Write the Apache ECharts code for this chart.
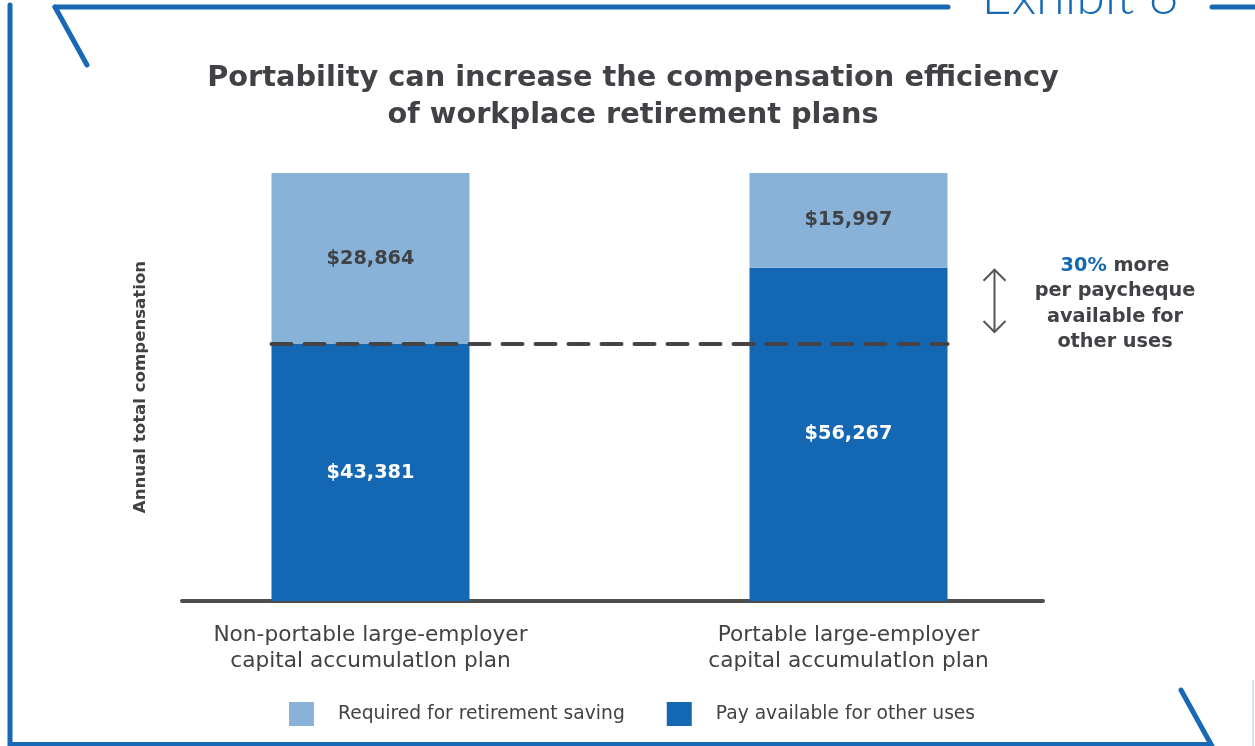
<!DOCTYPE html>
<html>
<head>
<meta charset="utf-8">
<script src="https://cdn.jsdelivr.net/npm/echarts@6/dist/echarts.min.js"></script>
<style>html,body{margin:0;padding:0;background:#fff;}#c{width:1255px;height:746px;}</style>
</head>
<body>
<div id="c"></div>
<script>
const categories = ['Non-portable large-employer\ncapital accumulatIon plan', 'Portable large-employer\ncapital accumulatIon plan'];
const payAvailable = [43381, 56267];
const requiredSaving = [28864, 15997];
const seriesNames = ['Required for retirement saving', 'Pay available for other uses'];
const titleText = 'Portability can increase the compensation efficiency\nof workplace retirement plans';
const yAxisName = 'Annual total compensation';
const exhibitText = 'Exhibit 6';
const annotationText = '{b|30%} more\nper paycheque\navailable for\nother uses';

const FONT = "'DejaVu Sans', 'Open Sans', sans-serif";
const DARK = '#1467b3';
const LIGHT = '#88b2d8';
const TEXT = '#414246';
const FRAME = '#1769b5';
const totals = payAvailable.map((v, i) => v + requiredSaving[i]);
const yMax = Math.max(...totals);
const fmt = v => '$' + v.toLocaleString('en-US');

const chart = echarts.init(document.getElementById('c'), null, {renderer: 'canvas'});
const option = {
  backgroundColor: '#fff',
  animation: false,
  title: {
    text: titleText, left: 633, top: 60, textAlign: 'center', padding: 0,
    textStyle: {fontFamily: FONT, fontWeight: 'bold', fontSize: 28.8, lineHeight: 37, color: TEXT}
  },
  legend: {
    data: [seriesNames[0], seriesNames[1]], left: 289, top: 702, itemWidth: 25, itemHeight: 24, itemGap: 42,
    icon: 'rect', selectedMode: false, padding: 0,
    textStyle: {fontFamily: FONT, fontSize: 18.7, color: TEXT, padding: [0, 0, 0, 19]}
  },
  grid: [
    {left: 131.5, right: 167.5, top: 173, bottom: 145},
    {left: 182, right: 212, top: 173, bottom: 145}
  ],
  xAxis: [
    {type: 'category', gridIndex: 0, data: categories, axisLine: {show: false}, axisTick: {show: false},
     axisLabel: {fontFamily: FONT, fontSize: 21.7, lineHeight: 26, color: TEXT, margin: 21, interval: 0}},
    {type: 'category', gridIndex: 1, data: [''], axisLine: {show: true, lineStyle: {color: '#4d4d4d', width: 4}},
     axisTick: {show: false}, axisLabel: {show: false}}
  ],
  yAxis: [
    {type: 'value', gridIndex: 0, min: 0, max: yMax, show: true, axisLine: {show: false}, axisTick: {show: false},
     axisLabel: {show: false}, splitLine: {show: false},
     name: yAxisName, nameLocation: 'middle', nameGap: -18, nameRotate: 90,
     nameTextStyle: {fontFamily: FONT, fontWeight: 'bold', fontSize: 16.6, color: TEXT}},
    {type: 'value', gridIndex: 1, show: false}
  ],
  series: [
    {name: seriesNames[1], type: 'bar', stack: 'a', data: payAvailable, barWidth: 198, itemStyle: {color: DARK},
     label: {show: true, position: 'inside', formatter: p => fmt(p.value), fontFamily: FONT, fontWeight: 'bold', fontSize: 19.3, color: '#fff'}},
    {name: seriesNames[0], type: 'bar', stack: 'a', data: requiredSaving, barWidth: 198, itemStyle: {color: LIGHT},
     label: {show: true, position: 'inside', formatter: p => fmt(p.value), fontFamily: FONT, fontWeight: 'bold', fontSize: 19.3, color: TEXT}},
    {type: 'custom', z: 10, clip: false, silent: true, data: [[0, payAvailable[0], payAvailable[1]]],
     encode: {x: 0, y: 1},
     renderItem: function (params, api) {
       const v0 = api.value(1), v1 = api.value(2);
       const p0 = api.coord([0, v0]);
       const p1 = api.coord([1, v0]);
       const pTop = api.coord([1, v1]);
       const half = 99;
       const ax = p1[0] + half + 47;
       const y1 = pTop[1] + 2, y2 = p0[1] - 12;
       const st = {stroke: '#555', lineWidth: 2, fill: null};
       return {type: 'group', children: [
         {type: 'line', shape: {x1: p0[0] - half, y1: p0[1], x2: p1[0] + half, y2: p1[1]},
          style: {stroke: '#444', lineWidth: 4, lineDash: [20, 13], lineCap: 'round'}},
         {type: 'line', shape: {x1: ax, y1: y1, x2: ax, y2: y2}, style: st},
         {type: 'polyline', shape: {points: [[ax - 11, y1 + 11], [ax, y1], [ax + 11, y1 + 11]]}, style: st},
         {type: 'polyline', shape: {points: [[ax - 11, y2 - 11], [ax, y2], [ax + 11, y2 - 11]]}, style: st}
       ]};
     }}
  ],
  graphic: [
    {type: 'line', shape: {x1: 10, y1: 5, x2: 10, y2: 746}, style: {stroke: FRAME, lineWidth: 5, lineCap: 'round'}},
    {type: 'line', shape: {x1: 8, y1: 744, x2: 1213, y2: 744}, style: {stroke: FRAME, lineWidth: 4}},
    {type: 'line', shape: {x1: 55, y1: 7, x2: 948, y2: 7}, style: {stroke: FRAME, lineWidth: 5, lineCap: 'round'}},
    {type: 'line', shape: {x1: 55, y1: 7, x2: 87, y2: 65}, style: {stroke: FRAME, lineWidth: 5, lineCap: 'round'}},
    {type: 'line', shape: {x1: 1212, y1: 7, x2: 1258, y2: 7}, style: {stroke: FRAME, lineWidth: 5, lineCap: 'round'}},
    {type: 'line', shape: {x1: 1181, y1: 690, x2: 1213, y2: 748}, style: {stroke: FRAME, lineWidth: 5, lineCap: 'round'}},
    {type: 'line', shape: {x1: 1253, y1: 680, x2: 1253, y2: 746}, style: {stroke: '#d6e4f2', lineWidth: 2}},
    {type: 'text', x: 1080, y: 23, style: {text: exhibitText, fontFamily: "Lato, 'Open Sans', sans-serif", fontWeight: 300,
      fontSize: 52, fill: FRAME, textAlign: 'center', textVerticalAlign: 'bottom'}},
    {type: 'text', x: 1115, y: 253, style: {text: annotationText, fontFamily: FONT, fontWeight: 'bold', fontSize: 19.3, lineHeight: 25.5,
      fill: TEXT, textAlign: 'center', rich: {b: {fontFamily: FONT, fontWeight: 'bold', fontSize: 19.3, lineHeight: 25.5, fill: DARK, color: DARK}}}}
  ]
};
chart.setOption(option);
</script>
</body>
</html>
